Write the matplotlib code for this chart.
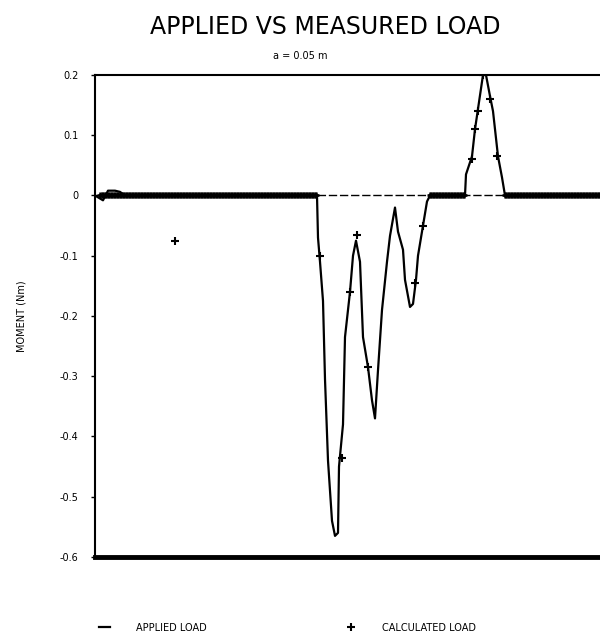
import numpy as np
import matplotlib
matplotlib.use("Agg")
import matplotlib.pyplot as plt

# applied load trace (sample, moment Nm)
applied_x = [0, 1.6, 2.6, 4, 5, 6, 44.4, 44.6, 45, 45.6, 46, 46.6, 47.4, 48, 48.6, 48.8,
             49.6, 50, 51, 51.6, 52.2, 53, 53.6, 54.6, 55.4, 56, 56.6, 57.4, 58.4, 59,
             60, 60.6, 61.6, 62, 63, 63.6, 64.2, 64.6, 65.6, 66.4, 67, 74, 74.2, 75.4,
             76, 76.8, 77.6, 78.2, 79, 79.6, 80, 80.6, 81.4, 82, 106]
applied_y = [0, -0.008, 0.008, 0.008, 0.006, 0, 0, -0.07, -0.11, -0.175, -0.305, -0.44, -0.54,
             -0.565, -0.56, -0.45, -0.38, -0.235, -0.16, -0.10, -0.075, -0.11, -0.235,
             -0.285, -0.34, -0.37, -0.29, -0.19, -0.11, -0.067, -0.02, -0.06, -0.09,
             -0.14, -0.185, -0.18, -0.14, -0.10, -0.05, -0.01, 0, 0, 0.035, 0.065, 0.11,
             0.155, 0.2, 0.2, 0.165, 0.14, 0.11, 0.065, 0.03, 0, 0]

# calculated load points
calc_zero_x = np.concatenate([np.arange(1.0, 44.5, 0.3), np.arange(67, 74.1, 0.3),
                              np.arange(82, 106, 0.3)])
calc_zero_y = np.zeros_like(calc_zero_x)
calc_x = [16, 45, 49.4, 51, 52.4, 54.6, 64, 65.6, 75.4, 76, 76.6, 77.6, 79, 80.4]
calc_y = [-0.075, -0.1, -0.435, -0.16, -0.065, -0.285, -0.145, -0.05, 0.06, 0.11,
          0.14, 0.2, 0.16, 0.065]

yticks = [0.2, 0.1, 0, -0.1, -0.2, -0.3, -0.4, -0.5, -0.6]
ytick_labels = ["0.2", "0.1", "0", "-0.1", "-0.2", "-0.3", "-0.4", "-0.5", "-0.6"]

fig = plt.figure(figsize=(6, 6.34), dpi=100)
ax = fig.add_axes([95 / 600, 0.1215, 530 / 600, 0.7602])

ax.axhline(0, color="black", lw=1, dashes=(6, 2), zorder=1)
ax.plot(applied_x, applied_y, color="black", lw=1.6, label="APPLIED LOAD", zorder=2)
ax.plot(calc_zero_x, calc_zero_y, "+", color="black", ms=4, mew=1.8, zorder=3)
ax.plot(calc_x, calc_y, "+", color="black", ms=6, mew=1.5, zorder=3, label="CALCULATED LOAD")

ax.set_xlim(0, 106)
ax.set_ylim(-0.6, 0.2)
ax.set_xticks([])
ax.set_yticks(yticks)
ax.set_yticklabels(ytick_labels, fontsize=7)
ax.tick_params(axis="y", length=3, width=1, pad=9)

ax.spines["right"].set_visible(False)
ax.spines["top"].set_linewidth(1.5)
ax.spines["left"].set_linewidth(1.5)
ax.spines["bottom"].set_linewidth(3.5)

ax.set_ylabel("MOMENT (Nm)", fontsize=7, labelpad=24)

fig.text(0.542, 0.957, "APPLIED VS MEASURED LOAD", ha="center", va="center", fontsize=17,
         color="black")
fig.text(0.5, 0.912, "a = 0.05 m", ha="center", va="center", fontsize=7)

fig.legend(loc="lower left", bbox_to_anchor=(0.15, -0.012), ncol=2, frameon=False,
           fontsize=7, columnspacing=14.3, handlelength=1.2, handletextpad=2.6)

fig.savefig("out.png", dpi=100)
